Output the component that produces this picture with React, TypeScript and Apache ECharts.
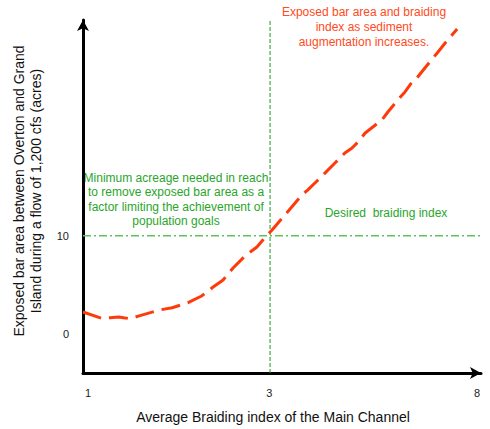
import React, { useEffect, useRef } from "react";
import * as echarts from "echarts";

// x: position along the axis (0 = origin, 100 = axis end); y: exposed bar area (acres)
const curveX = [0, 4.7, 6.8, 9.0, 10.1, 11.8, 14.1, 19.3, 22.4, 26.4, 29.8, 32.7, 35.2, 37.7, 40.7, 43.7, 45.2, 47.5, 50.3, 53.3, 55.0, 56.5, 60.3, 63.3, 65.8, 67.6, 69.1, 70.9, 75.1, 76.6, 79.1, 80.9, 82.7, 83.9, 85.9, 89.2, 91.0, 94.0];
const curveY = [2.22, 1.58, 1.64, 1.7, 1.64, 1.54, 1.82, 2.43, 2.66, 3.17, 3.85, 4.77, 5.49, 6.71, 7.93, 8.85, 9.57, 10.59, 11.91, 13.34, 14.16, 14.67, 16.19, 17.42, 18.44, 18.95, 19.56, 20.48, 21.81, 22.62, 23.85, 24.66, 25.68, 26.09, 27.11, 28.74, 29.66, 31.09];

const xTickPositions = [1.3, 46.8, 99];
const xTickLabels = ["1", "3", "8"];
const yTickValues = [0, 10];
const yTickLabels = ["0", "10"];

const desiredIndexX = 47;
const minAcreageY = 10;

const FAMILY = "Liberation Sans";
const FONT = "Liberation Sans, Arial, sans-serif";

export default function App() {
  const ref = useRef<HTMLDivElement>(null);
  useEffect(() => {
    document.body.style.margin = "0";
    if (!ref.current) return;
    const chart = echarts.init(ref.current, null, { renderer: "svg" });
    chart.setOption({
      animation: false,
      backgroundColor: "#ffffff",
      textStyle: { fontFamily: FAMILY },
      grid: { left: 83, right: 9, top: 20, bottom: 56 },
      xAxis: {
        type: "value",
        min: 0,
        max: 100,
        splitLine: { show: false },
        axisTick: { show: false },
        axisLine: {
          show: true,
          onZero: false,
          lineStyle: { color: "#000", width: 3 },
          symbol: ["none", "arrow"],
          symbolSize: [9, 11],
        },
        axisLabel: {
          customValues: xTickPositions,
          formatter: (v: number) => {
            const i = xTickPositions.findIndex((p) => Math.abs(p - v) < 0.01);
            return i >= 0 ? xTickLabels[i] : "";
          },
          margin: 14,
          color: "#222",
          fontSize: 11,
          fontFamily: FAMILY,
        },
      },
      yAxis: {
        type: "value",
        min: -4,
        max: 32,
        splitLine: { show: false },
        axisTick: { show: false },
        axisLine: {
          show: true,
          onZero: false,
          lineStyle: { color: "#000", width: 3 },
          symbol: ["none", "arrow"],
          symbolSize: [9, 11],
        },
        axisLabel: {
          customValues: yTickValues,
          formatter: (v: number) => {
            const i = yTickValues.indexOf(v);
            return i >= 0 ? yTickLabels[i] : "";
          },
          margin: 14,
          color: "#222",
          fontSize: 11,
          fontFamily: FAMILY,
        },
      },
      series: [
        {
          type: "line",
          data: [
            [0, minAcreageY],
            [102.5, minAcreageY],
          ],
          clip: false,
          showSymbol: false,
          silent: true,
          lineStyle: { color: "#5fbf5f", width: 1.5, type: [8, 3, 2, 3] },
        },
        {
          type: "line",
          data: [
            [desiredIndexX, -4],
            [desiredIndexX, 31.9],
          ],
          showSymbol: false,
          silent: true,
          lineStyle: { color: "#1a9a1a", width: 1, type: [4, 2] },
        },
        {
          type: "line",
          data: curveX.map((x, i) => [x, curveY[i]]),
          showSymbol: false,
          silent: true,
          clip: false,
          lineStyle: { color: "#ff3a0a", width: 3, type: [19, 8], cap: "butt" },
        },
      ],
      graphic: [
        {
          type: "text",
          x: 27,
          y: 191,
          rotation: Math.PI / 2,
          style: {
            text: "Exposed bar area between Overton and Grand\nIsland during a flow of 1,200 cfs (acres)",
            font: `14px ${FONT}`,
            fill: "#111",
            textAlign: "center",
            textVerticalAlign: "middle",
            lineHeight: 17,
          },
        },
        {
          type: "text",
          x: 273,
          y: 417,
          style: {
            text: "Average Braiding index of the Main Channel",
            font: `14px ${FONT}`,
            fill: "#111",
            textAlign: "center",
            textVerticalAlign: "middle",
          },
        },
        {
          type: "text",
          x: 176,
          y: 171,
          style: {
            text: "Minimum acreage needed in reach\nto remove exposed bar area as a\nfactor limiting the achievement of\npopulation goals",
            font: `12px ${FONT}`,
            fill: "#2aa52a",
            textAlign: "center",
            textVerticalAlign: "top",
            lineHeight: 14.3,
          },
        },
        {
          type: "text",
          x: 386,
          y: 213,
          style: {
            text: "Desired  braiding index",
            font: `12px ${FONT}`,
            fill: "#2aa52a",
            textAlign: "center",
            textVerticalAlign: "middle",
          },
        },
        {
          type: "text",
          x: 364,
          y: 4.5,
          style: {
            text: "Exposed bar area and braiding\nindex as sediment\naugmentation increases.",
            font: `12px ${FONT}`,
            fill: "#ff4a22",
            textAlign: "center",
            textVerticalAlign: "top",
            lineHeight: 15,
          },
        },
      ],
    });
    return () => chart.dispose();
  }, []);
  return <div ref={ref} style={{ width: 490, height: 429 }} />;
}
